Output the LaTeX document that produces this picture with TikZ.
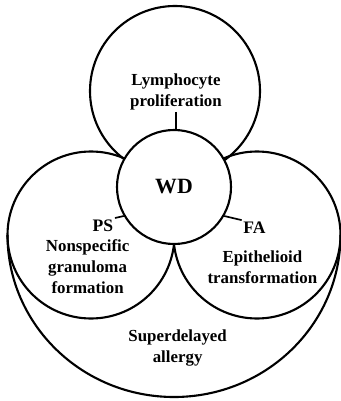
\documentclass[tikz,border=0pt]{standalone}
\usepackage{fontspec}
\setmainfont{Liberation Serif}
\usetikzlibrary{positioning}

\begin{document}
\begin{tikzpicture}[
  every node/.style={align=center},
  % Circles
  ring/.style={draw=black, line width=1.5pt},
  core/.style={
    circle, draw=black, fill=white, line width=1.5pt,
    minimum size=2.85cm, inner sep=0pt,
    font=\fontsize{15.5}{18}\selectfont\bfseries
  },
  % Labels
  txt/.style={font=\fontsize{12}{15}\selectfont\bfseries, inner sep=1pt},
  tag/.style={font=\fontsize{12.5}{14}\selectfont\bfseries, inner sep=1pt},
  % Short ticks to the centre circle
  tick/.style={draw=black, line width=1.2pt},
]

\useasboundingbox (0,0) rectangle (8.525,-10.025);

% -------------------------------------------------------
% OUTER RINGS
% -------------------------------------------------------
\draw[ring] (4.375,-2.275) circle (2.125);
\draw[ring] (2.275,-5.875) circle (2.0875);
\draw[ring] (6.425,-5.875) circle (2.0875);
\draw[ring] (0.1875,-5.875) arc[start angle=180, end angle=360,
  x radius=4.1625, y radius=4.05];

% -------------------------------------------------------
% CENTRE
% -------------------------------------------------------
\node[core] (wd) at (4.35,-4.675) {WD};

% -------------------------------------------------------
% LABELS
% -------------------------------------------------------
\node[txt] (lp) at (4.4,-2.3)   {Lymphocyte\\proliferation};
\node[tag] (ps) at (2.575,-5.64) {PS};
\node[tag] (fa) at (6.36,-5.69)  {FA};
\node[txt] (ng) at (2.19,-6.675) {Nonspecific\\granuloma\\formation};
\node[txt] (et) at (6.56,-6.675) {Epithelioid\\transformation};
\node[txt] (sa) at (4.44,-8.7)   {Superdelayed\\allergy};

% ticks
\draw[tick] (lp.south) -- (lp.south |- wd.north);
\draw[tick] (ps.north east) -- (wd.210);
\draw[tick] (fa.north west) -- (wd.330);

\end{tikzpicture}
\end{document}
